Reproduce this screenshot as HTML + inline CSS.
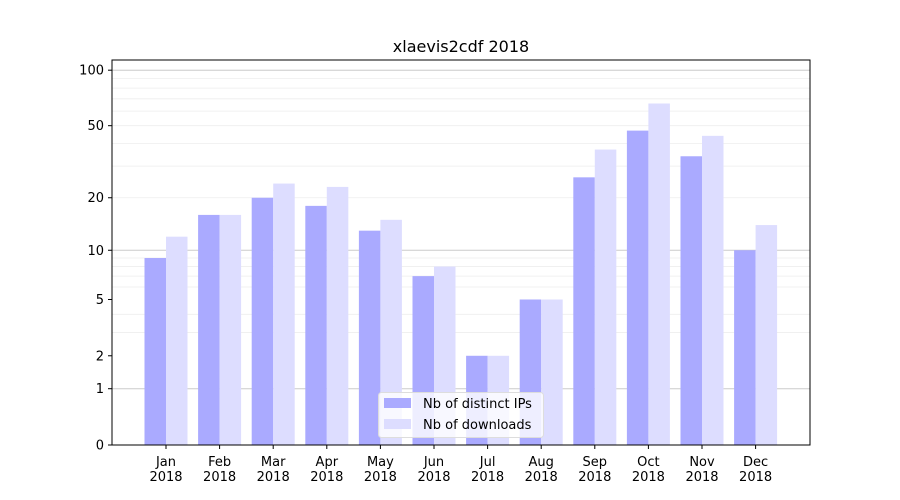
<!DOCTYPE html><html><head><style>body{margin:0;background:#fff}svg{display:block;font-family:"DejaVu Sans","Liberation Sans",sans-serif}</style></head><body>
<svg id="c" width="900" height="500" xmlns="http://www.w3.org/2000/svg"></svg>
<script>
const s=document.getElementById('c');let h='';
const Y=v=>445-187*Math.log10(v+1);
// minor grid
for(const v of [3,4,6,7,8,9,20,30,40,50,60,70,80,90,100]){h+=`<line x1="112" x2="810" y1="${Y(v)}" y2="${Y(v)}" stroke="#eee" stroke-width="0.8"/>`}
for(const v of [1,10,100]){h+=`<line x1="112" x2="810" y1="${Y(v)}" y2="${Y(v)}" stroke="#ccc" stroke-width="1"/>`}
const ip=[9,16,20,18,13,7,2,5,26,47,34,10],dl=[12,16,24,23,15,8,2,5,37,66,44,14];
const m=['Jan','Feb','Mar','Apr','May','Jun','Jul','Aug','Sep','Oct','Nov','Dec'];
for(let i=0;i<12;i++){const c=166+i*53.6;
h+=`<rect x="${c-21.5}" y="${Y(ip[i])}" width="21.5" height="${445-Y(ip[i])}" fill="#aaaaff"/>`;
h+=`<rect x="${c}" y="${Y(dl[i])}" width="21.5" height="${445-Y(dl[i])}" fill="#ddddff"/>`;
h+=`<line x1="${c}" x2="${c}" y1="445" y2="449" stroke="#000"/><text x="${c}" y="466" font-size="13" text-anchor="middle">${m[i]}</text><text x="${c}" y="481" font-size="13" text-anchor="middle">2018</text>`;}
for(const v of [0,1,2,5,10,20,50,100]){const y=Y(v);h+=`<line x1="108" x2="112" y1="${y}" y2="${y}" stroke="#000"/><text x="104" y="${y+4.5}" font-size="13" text-anchor="end">${v}</text>`}
h+=`<rect x="112" y="60" width="698" height="385" fill="none" stroke="#000"/>`;
h+=`<text x="461" y="52" font-size="16" text-anchor="middle">xlaevis2cdf 2018</text>`;
h+=`<rect x="378.5" y="392.5" width="165" height="45" rx="3" fill="#fff" fill-opacity="0.8" stroke="#ddd"/>`;
h+=`<rect x="384" y="398" width="27" height="10" fill="#aaaaff"/><text x="423" y="408" font-size="13">Nb of distinct IPs</text>`;
h+=`<rect x="384" y="419" width="27" height="10" fill="#ddddff"/><text x="423" y="429" font-size="13">Nb of downloads</text>`;
s.innerHTML=h;
</script></body></html>
